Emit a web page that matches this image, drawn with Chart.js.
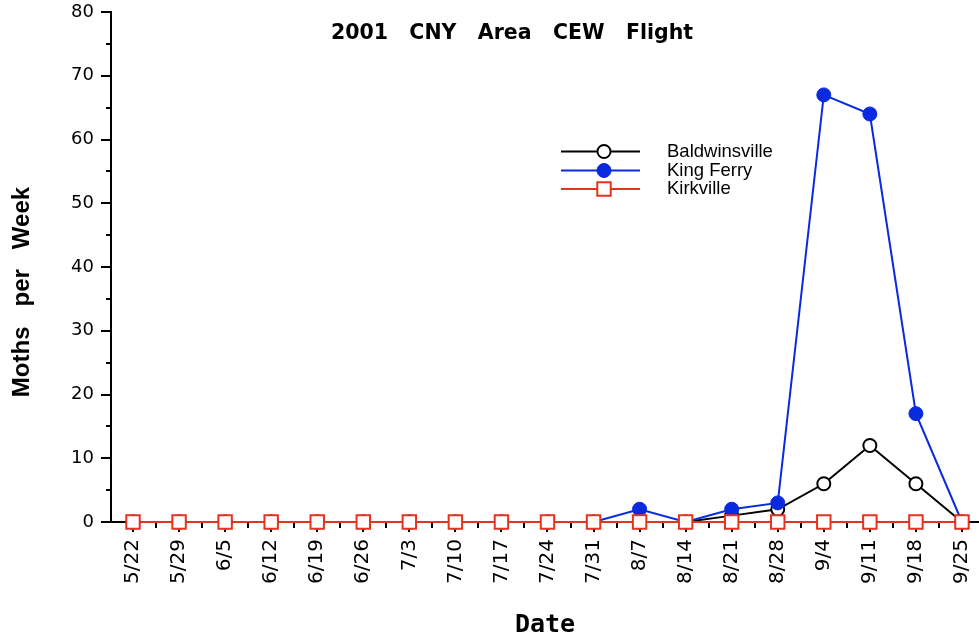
<!DOCTYPE html>
<html>
<head>
<meta charset="utf-8">
<title>2001 CNY Area CEW Flight</title>
<script src="https://cdn.jsdelivr.net/npm/chart.js@4.4.1/dist/chart.umd.min.js"></script>
<style>
body{margin:0;background:#fff}
canvas{display:block}
</style>
</head>
<body>
<canvas id="grafico" width="979" height="641"></canvas>
<script>
const datas = ["5/22","5/29","6/5","6/12","6/19","6/26","7/3","7/10","7/17","7/24","7/31","8/7","8/14","8/21","8/28","9/4","9/11","9/18","9/25"]
const baldwinsville = [0,0,0,0,0,0,0,0,0,0,0,0,0,1,2,6,12,6,0]
const kingFerry = [0,0,0,0,0,0,0,0,0,0,0,2,0,2,3,67,64,17,0]
const kirkville = [0,0,0,0,0,0,0,0,0,0,0,0,0,0,0,0,0,0,0]
const yTicks = [0,10,20,30,40,50,60,70,80]

const titulo = "2001   CNY   Area   CEW   Flight"
const tituloY = "Moths   per   Week"

const preto = "#000000"
const azul = "#0a2ae0"
const vermelho = "#e6321e"

function pontos(valores){
  return valores.map((v,i)=>({x:i, y:v}))
}

// titles, legend and minor ticks
const extras = {
  id: "extras",
  beforeDatasetsDraw(chart){
    const ctx = chart.ctx
    const x = chart.scales.x, y = chart.scales.y
    const area = chart.chartArea
    ctx.save()
    ctx.strokeStyle = preto
    ctx.lineWidth = 2
    ctx.beginPath()
    for(let v = 5; v < 80; v += 10){
      let py = Math.round(y.getPixelForValue(v))
      ctx.moveTo(area.left - 5, py)
      ctx.lineTo(area.left, py)
    }
    for(let i = 0; i < datas.length - 1; i++){
      let px = Math.round(x.getPixelForValue(i + 0.5))
      ctx.moveTo(px, area.bottom)
      ctx.lineTo(px, area.bottom + 6)
    }
    ctx.stroke()
    ctx.restore()
  },
  afterDraw(chart){
    const ctx = chart.ctx
    ctx.save()
    ctx.fillStyle = preto
    ctx.textAlign = "center"
    ctx.textBaseline = "middle"
    ctx.font = "bold 20.5px 'DejaVu Sans'"
    ctx.fillText(titulo, 512, 34)

    ctx.translate(22, 292)
    ctx.rotate(-Math.PI/2)
    ctx.font = "bold 24px 'Liberation Sans'"
    ctx.fillText(tituloY, 0, 0)
    ctx.restore()

    // legend
    const linhas = [151.5, 170.5, 189]
    ctx.save()
    chart.data.datasets.forEach((ds, i)=>{
      let ly = linhas[i]
      ctx.strokeStyle = ds.borderColor
      ctx.lineWidth = ds.borderWidth
      ctx.beginPath()
      ctx.moveTo(561, ly)
      ctx.lineTo(640, ly)
      ctx.stroke()
      ctx.fillStyle = ds.pointBackgroundColor
      ctx.strokeStyle = ds.pointBorderColor
      ctx.lineWidth = ds.pointBorderWidth
      Chart.helpers.drawPoint(ctx, {pointStyle: ds.pointStyle, radius: ds.pointRadius, borderWidth: ds.pointBorderWidth, rotation: 0}, 604, ly)
      ctx.fillStyle = preto
      ctx.font = "18.5px 'Liberation Sans'"
      ctx.textAlign = "left"
      ctx.textBaseline = "middle"
      ctx.fillText(ds.label, 667, ly)
    })
    ctx.restore()
  }
}

const ctx = document.getElementById("grafico").getContext("2d")

const grafico = new Chart(ctx, {
  type: "line",
  data: {
    datasets: [
      {
        label: "Baldwinsville",
        data: pontos(baldwinsville),
        borderColor: preto,
        borderWidth: 2,
        pointStyle: "circle",
        pointRadius: 6.5,
        pointBackgroundColor: "#ffffff",
        pointBorderColor: preto,
        pointBorderWidth: 2,
        order: 3
      },
      {
        label: "King Ferry",
        data: pontos(kingFerry),
        borderColor: azul,
        borderWidth: 2,
        pointStyle: "circle",
        pointRadius: 7,
        pointBackgroundColor: azul,
        pointBorderColor: azul,
        pointBorderWidth: 1,
        order: 2
      },
      {
        label: "Kirkville",
        data: pontos(kirkville),
        borderColor: vermelho,
        borderWidth: 2,
        pointStyle: "rect",
        pointRadius: 9.5,
        pointBackgroundColor: "#ffffff",
        pointBorderColor: vermelho,
        pointBorderWidth: 2,
        order: 1
      }
    ]
  },
  options: {
    responsive: false,
    animation: false,
    clip: false,
    layout: { autoPadding: false, padding: { top: 12, left: 0, right: 0, bottom: 0 } },
    plugins: {
      legend: { display: false },
      tooltip: { enabled: false }
    },
    scales: {
      x: {
        type: "linear",
        min: -0.478,
        max: 18.37,
        afterBuildTicks: (s)=>{ s.ticks = datas.map((d,i)=>({value:i})) },
        afterFit: (s)=>{ s.height = 119; s.paddingLeft = 0; s.paddingRight = 0 },
        ticks: {
          callback: (v)=>datas[v],
          autoSkip: false,
          minRotation: 90,
          maxRotation: 90,
          padding: 7,
          color: preto,
          font: { family: "DejaVu Sans", size: 20 }
        },
        grid: { drawOnChartArea: false, drawTicks: true, tickLength: 10, color: preto, lineWidth: 2 },
        border: { display: true, color: preto, width: 2 },
        title: {
          display: true,
          text: "Date",
          color: preto,
          padding: { top: 0, bottom: 1 },
          font: { family: "DejaVu Sans Mono", size: 25, weight: "bold" }
        }
      },
      y: {
        min: 0,
        max: 80,
        afterBuildTicks: (s)=>{ s.ticks = yTicks.map(v=>({value:v})) },
        afterFit: (s)=>{ s.width = 111; s.paddingTop = 0; s.paddingBottom = 0 },
        ticks: {
          padding: 7,
          color: preto,
          font: { family: "DejaVu Sans", size: 18 }
        },
        grid: { drawOnChartArea: false, drawTicks: true, tickLength: 10, color: preto, lineWidth: 2 },
        border: { display: true, color: preto, width: 2 }
      }
    }
  },
  plugins: [extras]
})
</script>
</body>
</html>
